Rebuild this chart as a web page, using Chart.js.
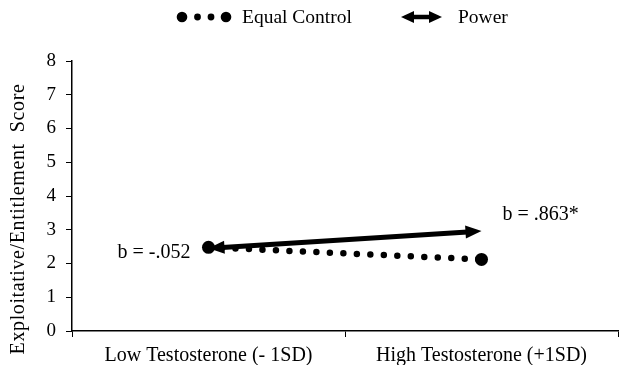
<!DOCTYPE html>
<html>
<head>
<meta charset="utf-8">
<script src="https://cdn.jsdelivr.net/npm/chart.js@4"></script>
<style>
  html, body { margin: 0; padding: 0; background: #fff; }
  #wrap { width: 620px; height: 365px; position: relative; }
</style>
</head>
<body>
<div id="wrap"><canvas id="myChart"></canvas></div>
<script>
const categories = ["Low Testosterone (- 1SD)", "High Testosterone (+1SD)"];
const equalControl = [2.48, 2.12];
const power = [2.45, 2.96];
const yTicks = [0, 1, 2, 3, 4, 5, 6, 7, 8];
const slopeLabels = ["b = -.052", "b = .863*"];
const seriesNames = ["Equal Control", "Power"];
const yTitle = "Exploitative/Entitlement  Score";

const serif = "'Liberation Serif', 'Times New Roman', serif";

function arrowHead(ctx, tip, ux, uy, len, half) {
  const bx = tip.x - ux * len, by = tip.y - uy * len;
  ctx.beginPath();
  ctx.moveTo(tip.x, tip.y);
  ctx.lineTo(bx - uy * half, by + ux * half);
  ctx.lineTo(bx + uy * half, by - ux * half);
  ctx.closePath();
  ctx.fill();
}

function doubleArrow(ctx, a, b, width, len, half) {
  const dx = b.x - a.x, dy = b.y - a.y;
  const d = Math.hypot(dx, dy);
  const ux = dx / d, uy = dy / d;
  ctx.lineWidth = width;
  ctx.beginPath();
  ctx.moveTo(a.x + ux * (len - 2), a.y + uy * (len - 2));
  ctx.lineTo(b.x - ux * (len - 2), b.y - uy * (len - 2));
  ctx.stroke();
  arrowHead(ctx, b, ux, uy, len, half);
  arrowHead(ctx, a, -ux, -uy, len, half);
}

const extras = {
  id: "extras",
  afterDatasetsDraw(chart) {
    const ctx = chart.ctx;
    const pw = chart.getDatasetMeta(1).data;
    const ec = chart.getDatasetMeta(0).data;
    ctx.save();
    ctx.fillStyle = "#000";
    ctx.strokeStyle = "#000";
    doubleArrow(ctx, pw[0], pw[1], 5, 16, 6.5);

    // slope labels
    ctx.font = "20px " + serif;
    ctx.textBaseline = "alphabetic";
    ctx.textAlign = "right";
    ctx.fillText(slopeLabels[0], ec[0].x - 18, ec[0].y + 11);
    ctx.textAlign = "left";
    ctx.fillText(slopeLabels[1], pw[1].x + 21, pw[1].y - 11);
    ctx.restore();
  },
  afterDraw(chart) {
    const ctx = chart.ctx;
    ctx.save();
    ctx.fillStyle = "#000";
    ctx.strokeStyle = "#000";

    // legend: Equal Control
    const ly = 17;
    [[182, 5.3], [197.5, 3.4], [211, 3.4], [226, 5.3]].forEach(([x, r]) => {
      ctx.beginPath();
      ctx.arc(x, ly, r, 0, Math.PI * 2);
      ctx.fill();
    });
    ctx.font = "19.5px " + serif;
    ctx.textAlign = "left";
    ctx.textBaseline = "alphabetic";
    ctx.fillText(seriesNames[0], 242, 23);

    // legend: Power
    doubleArrow(ctx, {x: 401, y: ly}, {x: 442, y: ly}, 4.5, 13, 6);
    ctx.fillText(seriesNames[1], 458, 23);

    // y axis title
    ctx.font = "20px " + serif;
    ctx.letterSpacing = "0.6px";
    ctx.translate(19, 219);
    ctx.rotate(-Math.PI / 2);
    ctx.textAlign = "center";
    ctx.textBaseline = "middle";
    ctx.fillText(yTitle, 0, 0);
    ctx.restore();
  }
};

const ctx = document.getElementById("myChart");
new Chart(ctx, {
  type: "line",
  data: {
    labels: categories,
    datasets: [
      {
        label: seriesNames[0],
        data: equalControl,
        borderColor: "#000",
        backgroundColor: "#000",
        borderWidth: 6.5,
        borderDash: [0, 13.5],
        borderCapStyle: "round",
        pointRadius: 6.5,
        pointBorderWidth: 0,
        pointBackgroundColor: "#000"
      },
      {
        label: seriesNames[1],
        data: power,
        borderColor: "#000",
        borderWidth: 0,
        showLine: false,
        pointRadius: 0
      }
    ]
  },
  options: {
    responsive: true,
    maintainAspectRatio: false,
    animation: false,
    layout: { autoPadding: false, padding: { top: 61, right: 2, left: 0, bottom: 0 } },
    plugins: {
      legend: { display: false },
      tooltip: { enabled: false }
    },
    scales: {
      x: {
        offset: true,
        ticks: { color: "#000", font: { family: serif, size: 20 }, padding: 7, maxRotation: 0 },
        grid: { offset: true, drawOnChartArea: false, tickLength: 6, color: "#000", lineWidth: 1 },
        border: { color: "#000", width: 1.5 },
        afterFit(s) { s.height = 34; s.paddingLeft = 0; s.paddingRight = 0; }
      },
      y: {
        min: 0,
        max: 8,
        afterBuildTicks(s) { s.ticks = yTicks.map(v => ({ value: v })); },
        ticks: { color: "#000", font: { family: serif, size: 19 }, padding: 10 },
        grid: { drawOnChartArea: false, tickLength: 6, color: "#000", lineWidth: 1 },
        border: { color: "#000", width: 1.5 },
        afterFit(s) { s.width = 72; }
      }
    }
  },
  plugins: [extras]
});
</script>
</body>
</html>
